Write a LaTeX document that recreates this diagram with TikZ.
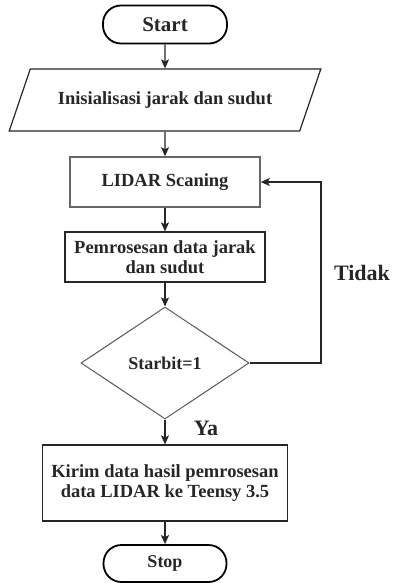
\documentclass[tikz,border=0pt]{standalone}
\usepackage{fontspec}
\setmainfont{Liberation Serif}
\usetikzlibrary{shapes.geometric,arrows.meta}
\begin{document}
\begin{tikzpicture}[x=1pt,y=-1pt,
  txt/.style={font=\fontsize{18.5}{20}\selectfont\bfseries, align=center, inner sep=0pt, text=black!85},
  term/.style={txt, draw=black, line width=1.8pt, rounded corners=18pt, minimum height=38pt},
  procbox/.style={txt, draw=black!85, line width=1.2pt, rectangle},
  arr/.style={draw=black!85, line width=1.1pt, -{Stealth[length=9pt,width=8pt,inset=2pt]}},
  lbl/.style={font=\fontsize{22}{24}\selectfont\bfseries, text=black!85, inner sep=0pt}]
\useasboundingbox (0,0) rectangle (395,583);
\node[term, minimum width=124pt, font=\fontsize{21}{22}\selectfont\bfseries] (start) at (165,24.5) {Start};
\node[txt, draw=black!85, line width=1.2pt, trapezium, trapezium left angle=45, trapezium right angle=135,
      trapezium stretches=true, minimum width=312pt, minimum height=62pt] (init) at (165,100) {Inisialisasi jarak dan sudut};
\node[procbox, draw=black!60, line width=1.5pt, minimum width=190pt, minimum height=50pt] (lidar) at (165,182) {LIDAR Scaning};
\node[procbox, minimum width=200pt, minimum height=50pt] (proc) at (165,257) {Pemrosesan data jarak\\dan sudut};
\node[txt, draw=black!65, line width=1pt, diamond, minimum width=168pt, minimum height=112pt, font=\fontsize{18}{20}\selectfont\bfseries] (dec) at (165,363) {Starbit=1};
\node[procbox, minimum width=245pt, minimum height=76pt] (kirim) at (165,483) {Kirim data hasil pemrosesan\\data LIDAR ke Teensy 3.5};
\node[term, minimum width=123pt, minimum height=37pt, font=\fontsize{18}{20}\selectfont\bfseries] (stop) at (165,563.5) {Stop};
\coordinate (lp) at (321,363);
\draw[arr] (start) -- (init);
\draw[arr] (init) -- (lidar);
\draw[arr] (lidar) -- (proc);
\draw[arr] (proc) -- (dec);
\draw[arr] (dec) -- (kirim);
\draw[arr] (kirim) -- (stop);
\draw[arr] (dec.east) -- (lp) |- (lidar.east);
\node[lbl] (tidak) at (362,273) {Tidak};
\node[lbl] (ya) at (206,428) {Ya};
\end{tikzpicture}
\end{document}
